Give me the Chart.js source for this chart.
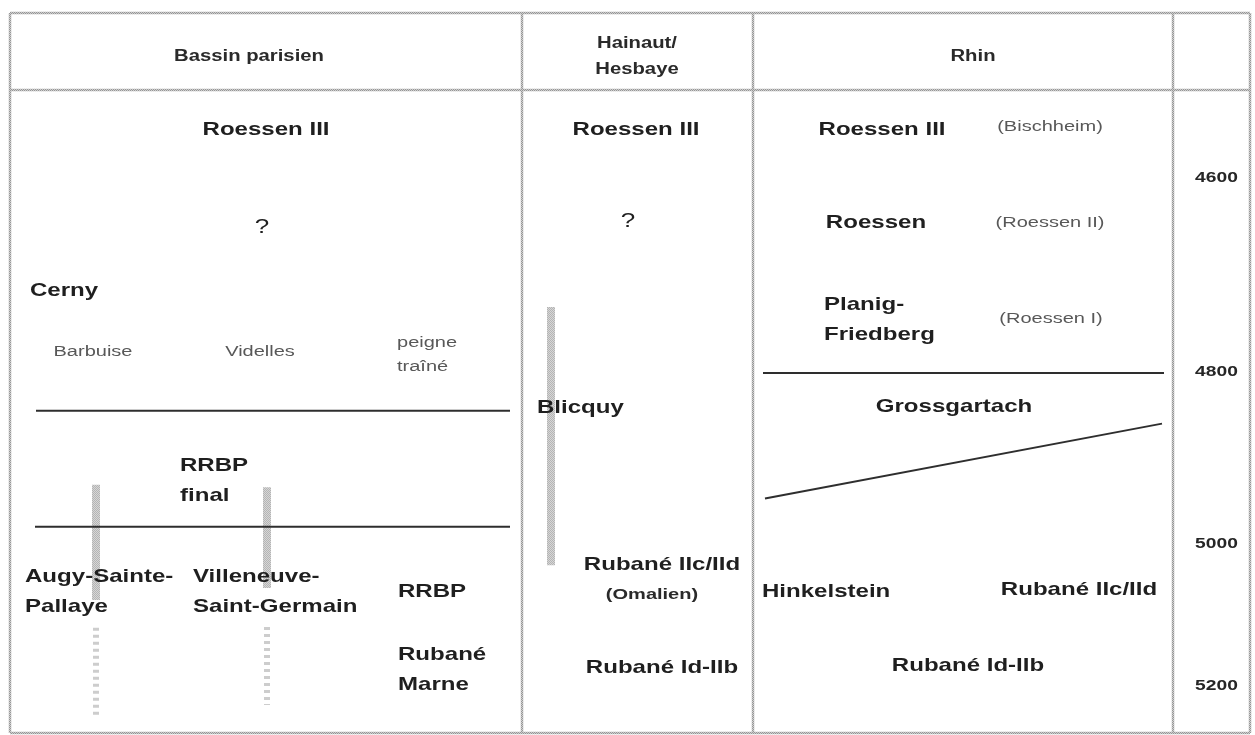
<!DOCTYPE html>
<html><head><meta charset="utf-8">
<script src="https://cdn.jsdelivr.net/npm/chart.js@4/dist/chart.umd.min.js"></script>
<style>html,body{margin:0;padding:0;background:#fff;overflow:hidden}#wrap{width:1255px;height:735px;position:relative}</style>
</head><body><div id="wrap"><canvas id="c"></canvas></div>
<script>
// ---- data ----
const regions = ['Bassin parisien', 'Hainaut/\nHesbaye', 'Rhin'];
const regionLabelX = [249, 637, 973];
const regionEdges = [10, 522, 753, 1173, 1250];
const yearTicks = [4600, 4800, 5000, 5200];

const bassinCultures = [
  {text:'Roessen III', x:266, year:4551, align:'center'},
  {text:'?', x:262, year:4651, align:'center', kind:'q'},
  {text:'Cerny', x:30, year:4716, align:'left'},
  {text:'RRBP\nfinal', x:180, year:4927, align:'left'},
  {text:'Augy-Sainte-\nPallaye', x:25, year:5068, align:'left'},
  {text:'Villeneuve-\nSaint-Germain', x:193, year:5068, align:'left'},
  {text:'RRBP', x:398, year:5068, align:'left'},
  {text:'Rubané\nMarne', x:398, year:5177, align:'left'}
];
const hainautCultures = [
  {text:'Roessen III', x:636, year:4551, align:'center'},
  {text:'?', x:628, year:4645, align:'center', kind:'q'},
  {text:'Blicquy', x:537, year:4842, align:'left'},
  {text:'Rubané IIc/IId', x:662, year:5030, align:'center'},
  {text:'Rubané Id-IIb', x:662, year:5175, align:'center'}
];
const rhinCultures = [
  {text:'Roessen III', x:882, year:4551, align:'center'},
  {text:'Roessen', x:876, year:4646, align:'center'},
  {text:'Planig-\nFriedberg', x:824, year:4746, align:'left'},
  {text:'Grossgartach', x:954, year:4841, align:'center'},
  {text:'Hinkelstein', x:762, year:5068, align:'left'},
  {text:'Rubané IIc/IId', x:1079, year:5065, align:'center'},
  {text:'Rubané Id-IIb', x:968, year:5171, align:'center'}
];
const variants = [
  {text:'(Bischheim)', x:1050, year:4548, align:'center'},
  {text:'(Roessen II)', x:1050, year:4646, align:'center'},
  {text:'(Roessen I)', x:1051, year:4745, align:'center'},
  {text:'Barbuise', x:93, year:4779, align:'center'},
  {text:'Videlles', x:260, year:4779, align:'center'},
  {text:'peigne\ntraîné', x:397, year:4782, align:'left'},
  {text:'(Omalien)', x:652, year:5072, align:'center', kind:'om'}
];
const boundaryX = [[36,510],[35,510],[763,1164],[765,1162]];
const boundaryYears = [[4845,4845],[4980,4980],[4801,4801],[4947,4860]];
const durationX = [551, 96, 96, 267, 267];
const durationFrom = [4733, 4931, 5118, 4934, 5117];
const durationTo = [5030, 5079, 5246, 5062, 5227];
const durationKind = ['solid','solid','dotted','solid','dotted'];

// ---- custom piecewise year scale ----
class BentScale extends Chart.LinearScale {
  static id = 'bent';
  static defaults = Chart.LinearScale.defaults;
  _dec(v){
    const a = this.options.anchors;
    if (v <= a[0][0]) return a[0][1];
    for (let i=1;i<a.length;i++){
      if (v <= a[i][0]) {
        const t=(v-a[i-1][0])/(a[i][0]-a[i-1][0]);
        return a[i-1][1]+t*(a[i][1]-a[i-1][1]);
      }
    }
    return a[a.length-1][1];
  }
  getPixelForValue(v){ if (v==null||isNaN(v)) return NaN; return this.getPixelForDecimal(this._dec(v)); }
  getValueForPixel(p){
    const d=this.getDecimalForPixel(p); const a=this.options.anchors;
    for (let i=1;i<a.length;i++){
      if (d <= a[i][1]) { const t=(d-a[i-1][1])/(a[i][1]-a[i-1][1]); return a[i-1][0]+t*(a[i][0]-a[i-1][0]); }
    }
    return a[a.length-1][0];
  }
}
Chart.register(BentScale);

function makePattern(c1, c2){
  const p=document.createElement('canvas'); p.width=2; p.height=2;
  const g=p.getContext('2d');
  g.fillStyle=c1; g.fillRect(0,0,2,2);
  g.fillStyle=c2; g.fillRect(0,0,1,1); g.fillRect(1,1,1,1);
  return document.getElementById('c').getContext('2d').createPattern(p,'repeat');
}
const gridPat = makePattern('#d0d0d0', '#969696');
const barPat = makePattern('#d6d6d6', '#b4b4b4');

const datasets = [];
boundaryX.forEach((xs,i)=>{
  datasets.push({data:[{x:xs[0],y:boundaryYears[i][0]},{x:xs[1],y:boundaryYears[i][1]}],
    showLine:true, borderColor:'#2e2e2e', borderWidth:2, pointRadius:0, order:1});
});
durationX.forEach((x,i)=>{
  const dotted = durationKind[i]==='dotted';
  datasets.push({data:[{x:x,y:durationFrom[i]},{x:x,y:durationTo[i]}],
    showLine:true, borderColor: dotted ? '#cdcdcd' : barPat, borderWidth: dotted?6:8,
    borderDash: dotted?[3,4]:[], borderCapStyle:'butt', pointRadius:0, order:2});
});

const STRETCH = 1.3;
const BOLD = 'bold 18.5px "Liberation Sans", Arial, sans-serif';
const REG = '15.4px "Liberation Sans", Arial, sans-serif';
function drawText(ctx, str, px, py, font, color, align, lh){
  const lines=str.split('\n');
  ctx.font=font; ctx.fillStyle=color; ctx.textBaseline='middle'; ctx.textAlign=align;
  const y0=py-(lines.length-1)*lh/2;
  lines.forEach((l,i)=>{ctx.save(); ctx.translate(px,y0+i*lh); ctx.scale(STRETCH,1); ctx.fillText(l,0,0); ctx.restore();});
}

const tablePlugin = {
  id:'table',
  beforeDatasetsDraw(chart){
    const {ctx, chartArea, scales:{x}} = chart;
    ctx.save();
    ctx.strokeStyle=gridPat; ctx.lineWidth=2.5;
    const top=13, bottom=chartArea.bottom;
    const L=x.getPixelForValue(regionEdges[0]), R=x.getPixelForValue(regionEdges[regionEdges.length-1]);
    ctx.beginPath();
    ctx.moveTo(L,top); ctx.lineTo(R,top);
    ctx.moveTo(L,chartArea.top); ctx.lineTo(R,chartArea.top);
    ctx.moveTo(L,bottom); ctx.lineTo(R,bottom);
    regionEdges.forEach(e=>{const px=x.getPixelForValue(e); ctx.moveTo(px,top); ctx.lineTo(px,bottom);});
    ctx.stroke();
    ctx.restore();
  },
  afterDatasetsDraw(chart){
    const {ctx, chartArea, scales:{x,y}} = chart;
    ctx.save();
    regions.forEach((r,i)=>{
      drawText(ctx, r, x.getPixelForValue(regionLabelX[i]), (13+chartArea.top)/2+5,
        'bold 15.6px "Liberation Sans", Arial, sans-serif', '#2a2a2a', 'center', 26);
    });
    const colX = (regionEdges[3]+regionEdges[4])/2 + 5;
    yearTicks.forEach(t=>{
      drawText(ctx, String(t), x.getPixelForValue(colX), y.getPixelForValue(t),
        'bold 14.8px "Liberation Sans", Arial, sans-serif', '#262626', 'center', 0);
    });
    [...bassinCultures, ...hainautCultures, ...rhinCultures].forEach(c=>{
      const font = c.kind==='q' ? '20px "Liberation Sans", Arial, sans-serif' : BOLD;
      drawText(ctx, c.text, x.getPixelForValue(c.x), y.getPixelForValue(c.year), font, '#1f1f1f', c.align, 30);
    });
    variants.forEach(v=>{
      const font = v.kind==='om' ? 'bold 15.4px "Liberation Sans", Arial, sans-serif' : REG;
      const col = v.kind==='om' ? '#2a2a2a' : '#585858';
      drawText(ctx, v.text, x.getPixelForValue(v.x), y.getPixelForValue(v.year), font, col, v.align, 24);
    });
    ctx.restore();
  }
};

new Chart(document.getElementById('c'), {
  type:'scatter',
  data:{datasets},
  options:{
    responsive:true, maintainAspectRatio:false, animation:false,
    layout:{padding:{top:90,bottom:2,left:0,right:0}},
    plugins:{legend:{display:false}, tooltip:{enabled:false}},
    scales:{
      x:{type:'linear', min:0, max:1255, display:false},
      y:{type:'bent', min:4510, max:5267, reverse:true, display:false,
         anchors:[[4510,0],[4600,0.1369],[4800,0.4386],[5000,0.7061],[5200,0.9269],[5267,1]]}
    }
  },
  plugins:[tablePlugin]
});
</script></body></html>
